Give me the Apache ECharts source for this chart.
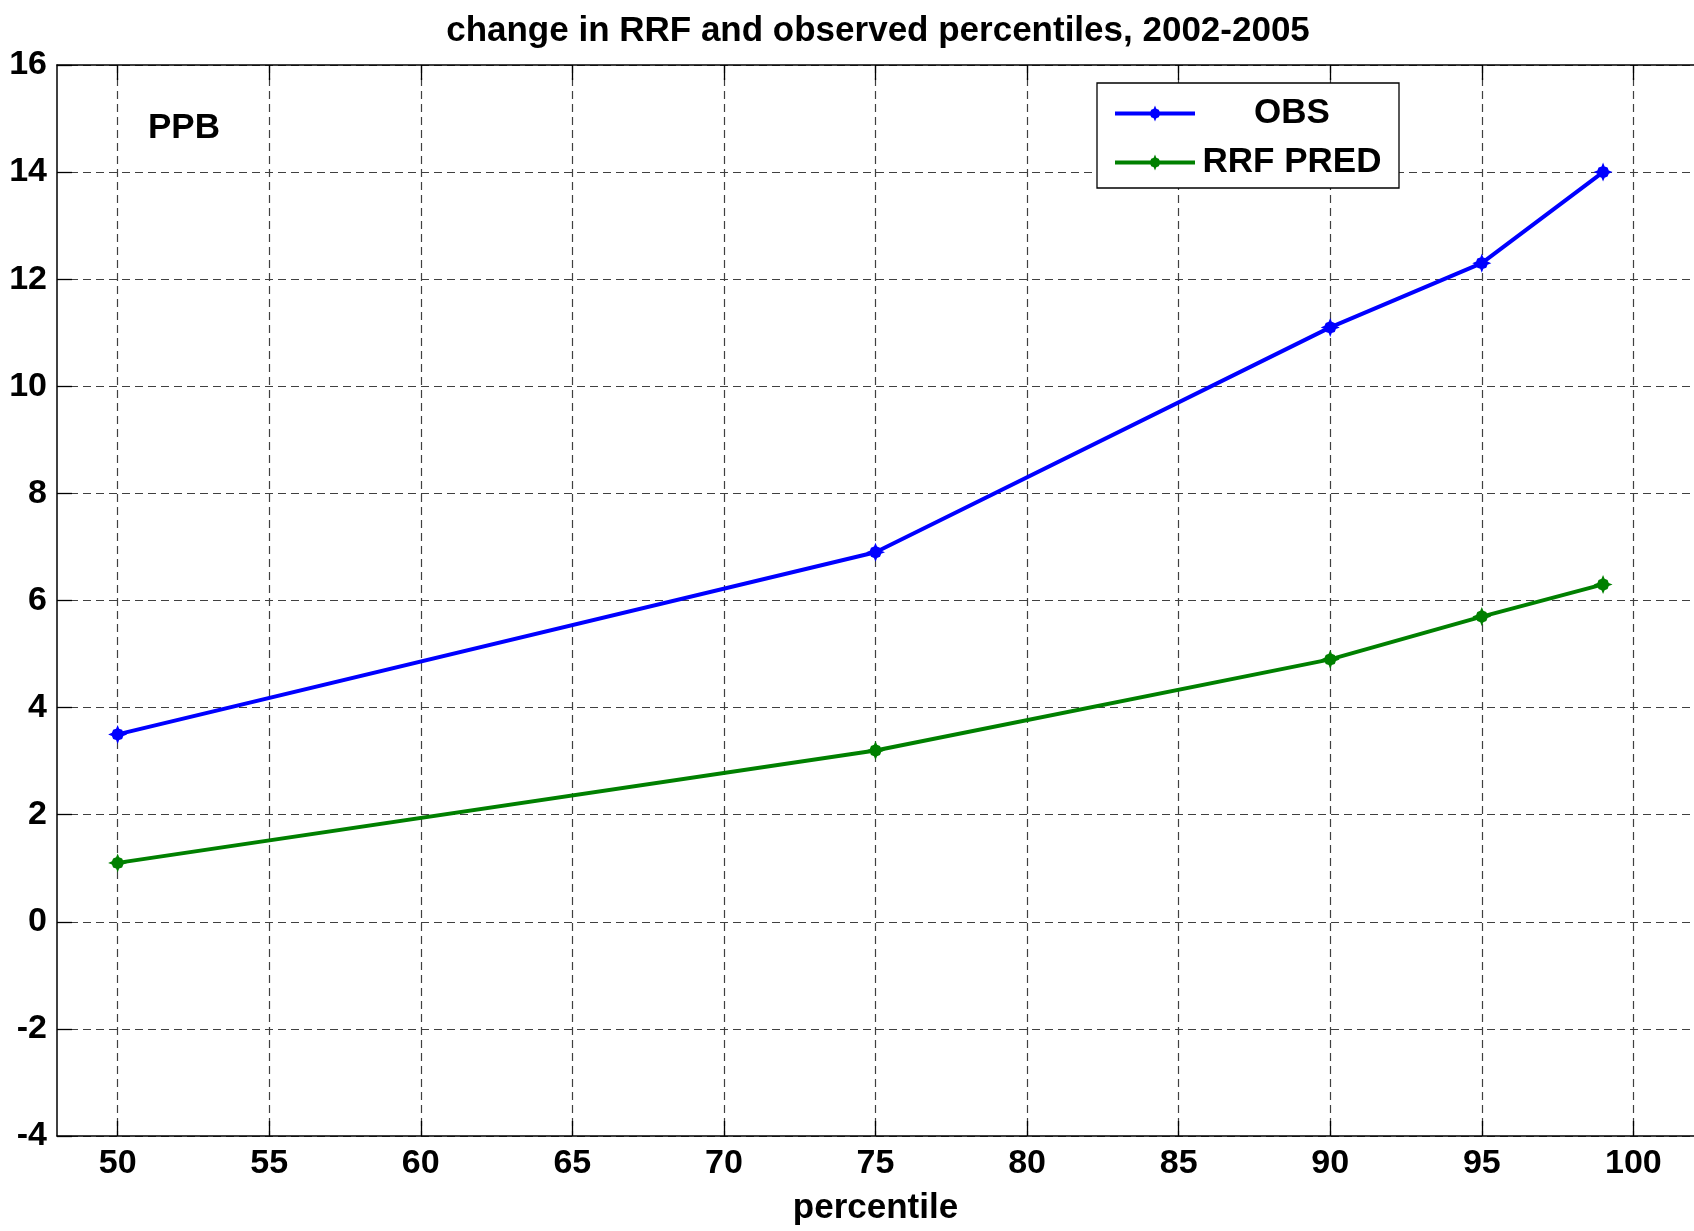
<!DOCTYPE html>
<html>
<head>
<meta charset="utf-8">
<script src="https://cdn.jsdelivr.net/npm/echarts@6/dist/echarts.min.js"></script>
<style>
  html, body { margin: 0; padding: 0; background: #fff; }
  #chart { width: 1694px; height: 1231px; }
</style>
</head>
<body>
<div id="chart"></div>
<script>
// Percentile positions and the change (ppb) at each one
const percentiles = [50, 75, 90, 95, 99];
const obsChange = [3.5, 6.9, 11.1, 12.3, 14.0];
const rrfPredChange = [1.1, 3.2, 4.9, 5.7, 6.3];

// Tick positions on the percentile axis
const xTicks = [50, 55, 60, 65, 70, 75, 80, 85, 90, 95, 100];

const FONT = '"Liberation Sans", Arial, Helvetica, sans-serif';

// A fat four-pointed marker, close to a thick "+"
const plusMarker = 'path://M8,0 L9.3,3.2 L11.8,4.2 L12.8,6.7 L16,8 L12.8,9.3 L11.8,11.8 L9.3,12.8 L8,16 L6.7,12.8 L4.2,11.8 L3.2,9.3 L0,8 L3.2,6.7 L4.2,4.2 L6.7,3.2 Z';

const toPairs = (xs, ys) => xs.map((x, i) => [x, ys[i]]);

const gridLine = { show: true, lineStyle: { color: '#404040', width: 1.2, type: [8, 5] } };
const tickStyle = { show: true, inside: true, length: 15, lineStyle: { color: '#000', width: 1.3 } };

const chart = echarts.init(document.getElementById('chart'), null, { renderer: 'canvas' });

chart.setOption({
  animation: false,
  backgroundColor: '#ffffff',
  title: {
    text: 'change in RRF and observed percentiles, 2002-2005',
    left: 873,
    top: 9,
    textAlign: 'center',
    textStyle: { fontFamily: FONT, fontWeight: 'bold', fontSize: 35, color: '#000' }
  },
  grid: { left: 57, right: 0, top: 65, bottom: 91, containLabel: false },
  legend: {
    orient: 'vertical',
    left: 1097,
    top: 83,
    padding: [13, 15, 8, 16],
    itemGap: 14,
    itemWidth: 80,
    itemHeight: 20,
    backgroundColor: '#fff',
    borderColor: '#000',
    borderWidth: 1.3,
    borderRadius: 0,
    lineStyle: { width: 4 },
    data: ['OBS', 'RRF PRED'],
    formatter: name => '{t|' + name + '}',
    textStyle: {
      rich: {
        t: {
          width: 184, align: 'center', lineHeight: 40,
          fontFamily: FONT, fontWeight: 'bold', fontSize: 35, color: '#000'
        }
      }
    }
  },
  graphic: [{
    type: 'text',
    x: 148,
    y: 128,
    style: {
      text: 'PPB',
      font: 'bold 35px ' + FONT,
      fill: '#000',
      align: 'left',
      verticalAlign: 'middle'
    }
  }],
  xAxis: [{
    type: 'value',
    position: 'bottom',
    min: 48,
    max: 102,
    name: 'percentile',
    nameLocation: 'middle',
    nameGap: 55,
    nameTextStyle: { fontFamily: FONT, fontWeight: 'bold', fontSize: 35, color: '#000' },
    axisLine: { show: true, onZero: false, lineStyle: { color: '#000', width: 1.5 } },
    axisTick: Object.assign({ customValues: xTicks }, tickStyle),
    axisLabel: {
      customValues: xTicks,
      margin: 11,
      fontFamily: FONT, fontWeight: 'bold', fontSize: 34, color: '#000'
    },
    splitLine: gridLine
  }, {
    type: 'value',
    position: 'top',
    min: 48,
    max: 102,
    axisLine: { show: true, onZero: false, lineStyle: { color: '#000', width: 1.5 } },
    axisTick: Object.assign({ customValues: xTicks }, tickStyle),
    axisLabel: { show: false },
    splitLine: { show: false }
  }],
  yAxis: {
    type: 'value',
    min: -4,
    max: 16,
    interval: 2,
    axisLine: { show: true, onZero: false, lineStyle: { color: '#000', width: 1.5 } },
    axisTick: tickStyle,
    axisLabel: {
      margin: 10,
      fontFamily: FONT, fontWeight: 'bold', fontSize: 34, color: '#000'
    },
    splitLine: gridLine
  },
  series: [{
    name: 'OBS',
    type: 'line',
    xAxisIndex: 0,
    data: toPairs(percentiles, obsChange),
    symbol: plusMarker,
    symbolSize: 19,
    showAllSymbol: true,
    color: '#0000ff',
    lineStyle: { color: '#0000ff', width: 4 },
    itemStyle: { color: '#0000ff' },
    z: 3
  }, {
    name: 'RRF PRED',
    type: 'line',
    xAxisIndex: 0,
    data: toPairs(percentiles, rrfPredChange),
    symbol: plusMarker,
    symbolSize: 19,
    showAllSymbol: true,
    color: '#008000',
    lineStyle: { color: '#008000', width: 4 },
    itemStyle: { color: '#008000' },
    z: 3
  }]
});
</script>
</body>
</html>
